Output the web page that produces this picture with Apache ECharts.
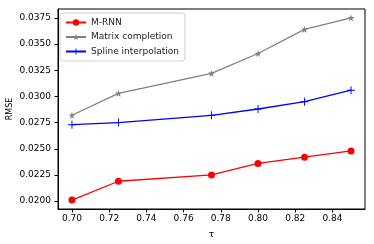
<!DOCTYPE html>
<html>
<head>
<meta charset="utf-8">
<script src="https://cdn.jsdelivr.net/npm/echarts@6/dist/echarts.min.js"></script>
<style>html,body{margin:0;padding:0;background:#fff;}#c{width:374px;height:244px;}</style>
</head>
<body>
<div id="c"></div>
<script>
var tau = [0.70, 0.725, 0.775, 0.80, 0.825, 0.85];
var mrnn = [0.0201, 0.0219, 0.0225, 0.0236, 0.0242, 0.0248];
var matrixCompletion = [0.0282, 0.0303, 0.0322, 0.0341, 0.0364, 0.0375];
var spline = [0.0273, 0.0275, 0.0282, 0.0288, 0.0295, 0.0306];
var xTicks = [0.70, 0.72, 0.74, 0.76, 0.78, 0.80, 0.82, 0.84];
var yTicks = [0.0200, 0.0225, 0.0250, 0.0275, 0.0300, 0.0325, 0.0350, 0.0375];

function pairs(ys){ return tau.map(function(x,i){ return [x, ys[i]]; }); }
var starPath = 'path://M10,0 L12.245,6.91 L19.51,6.91 L13.633,11.18 L15.878,18.09 L10,13.82 L4.122,18.09 L6.367,11.18 L0.489,6.91 L7.755,6.91 Z';
var plusPath = 'path://M4.4,0 H5.6 V4.4 H10 V5.6 H5.6 V10 H4.4 V5.6 H0 V4.4 H4.4 Z';
var font = 'DejaVu Sans';
var chart = echarts.init(document.getElementById('c'), null, {renderer:'canvas'});
chart.setOption({
  animation:false,
  textStyle:{fontFamily:font},
  grid:{left:58, right:9, top:9, bottom:35, containLabel:false, outerBoundsMode:'none',
    show:true, borderColor:'#000', borderWidth:1, backgroundColor:'transparent'},
  legend:{
    orient:'vertical', left:60, top:13, itemWidth:20, itemHeight:8, itemGap:5.5,
    padding:[5,6,5,5], borderColor:'#d0d0d0', borderWidth:1, borderRadius:3,
    backgroundColor:'rgba(255,255,255,0.8)',
    textStyle:{fontFamily:font, fontSize:9, color:'#222'},
    data:['M-RNN','Matrix completion','Spline interpolation']
  },
  xAxis:{
    type:'value', min:0.6925, max:0.8575,
    name:'τ', nameLocation:'middle', nameGap:21, nameMoveOverlap:false,
    nameTextStyle:{fontFamily:font, fontSize:9, color:'#000'},
    axisLine:{show:true, lineStyle:{color:'#000', width:1}},
    axisTick:{show:true, inside:false, length:3.5, lineStyle:{color:'#000'}, customValues:xTicks},
    axisLabel:{customValues:xTicks, margin:5, fontFamily:font, fontSize:9, color:'#000',
      formatter:function(v){return v.toFixed(2);}},
    splitLine:{show:false}
  },
  yAxis:{
    type:'value', min:0.01925, max:0.03835,
    name:'RMSE', nameLocation:'middle', nameGap:44, nameRotate:90, nameMoveOverlap:false,
    nameTextStyle:{fontFamily:font, fontSize:8, color:'#000'},
    axisLine:{show:true, lineStyle:{color:'#000', width:1}},
    axisTick:{show:true, inside:false, length:3.5, lineStyle:{color:'#000'}, customValues:yTicks},
    axisLabel:{customValues:yTicks, margin:7, fontFamily:font, fontSize:9, color:'#000',
      formatter:function(v){return v.toFixed(4);}},
    splitLine:{show:false}
  },
  series:[
    {name:'M-RNN', type:'line', data:pairs(mrnn), symbol:'circle', symbolSize:7,
      itemStyle:{color:'#ff0000'}, lineStyle:{color:'#ff0000', width:1.3}},
    {name:'Matrix completion', type:'line', data:pairs(matrixCompletion), symbol:starPath, symbolSize:7,
      itemStyle:{color:'#808080'}, lineStyle:{color:'#808080', width:1.3}},
    {name:'Spline interpolation', type:'line', data:pairs(spline), symbol:plusPath, symbolSize:8,
      itemStyle:{color:'#0000ff'}, lineStyle:{color:'#0000ff', width:1.3}}
  ]
});
</script>
</body>
</html>
